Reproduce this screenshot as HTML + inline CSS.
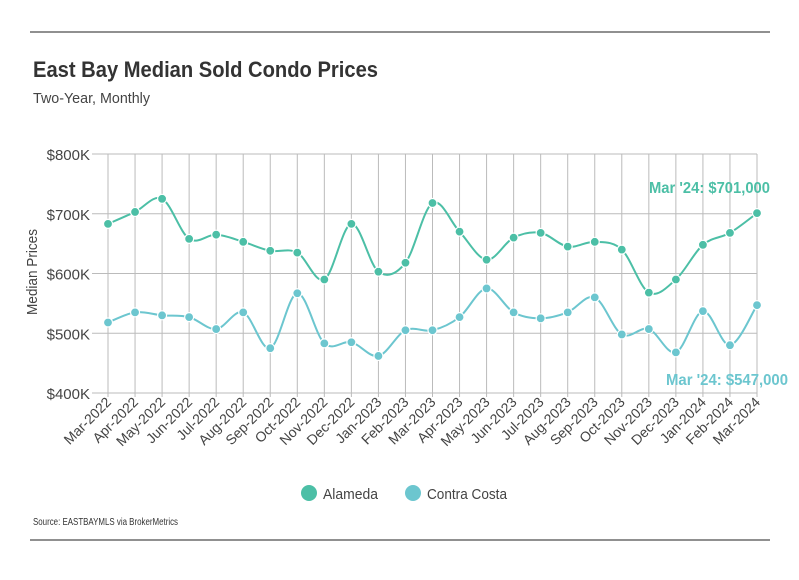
<!DOCTYPE html>
<html><head><meta charset="utf-8"><style>
body{margin:0;background:#fff;width:799px;height:575px;overflow:hidden;font-family:"Liberation Sans Narrow","Liberation Sans",sans-serif;}
</style></head><body>
<svg id="chart" width="799" height="575" xmlns="http://www.w3.org/2000/svg" style="font-family:'Liberation Sans Narrow','Liberation Sans',sans-serif">
<line x1="30" y1="32" x2="770" y2="32" stroke="#222" stroke-width="1"/>
<line x1="30" y1="540" x2="770" y2="540" stroke="#222" stroke-width="1"/>
<text x="33" y="77" font-size="22" font-weight="bold" fill="#333" textLength="345" lengthAdjust="spacingAndGlyphs">East Bay Median Sold Condo Prices</text>
<text x="33" y="103" font-size="15" fill="#444" textLength="117" lengthAdjust="spacingAndGlyphs">Two-Year, Monthly</text>
<text transform="translate(37,272) rotate(-90)" text-anchor="middle" font-size="15" fill="#444" textLength="86" lengthAdjust="spacingAndGlyphs">Median Prices</text>
<g id="grid"></g><g id="series"></g><g id="labels"></g>
<g>
<g><circle cx="309" cy="493" r="8" fill="#4cbfa6"/><text x="323" y="499" font-size="15" fill="#444" textLength="55" lengthAdjust="spacingAndGlyphs">Alameda</text></g>
<g><circle cx="413" cy="493" r="8" fill="#6cc6cf"/><text x="427" y="499" font-size="15" fill="#444" textLength="80" lengthAdjust="spacingAndGlyphs">Contra Costa</text></g>
</g>
<text x="33" y="525" font-size="10" fill="#333" textLength="145" lengthAdjust="spacingAndGlyphs">Source:  EASTBAYMLS via BrokerMetrics</text>
</svg>
<script>
const categories=["Mar-2022","Apr-2022","May-2022","Jun-2022","Jul-2022","Aug-2022","Sep-2022","Oct-2022","Nov-2022","Dec-2022","Jan-2023","Feb-2023","Mar-2023","Apr-2023","May-2023","Jun-2023","Jul-2023","Aug-2023","Sep-2023","Oct-2023","Nov-2023","Dec-2023","Jan-2024","Feb-2024","Mar-2024"];
const alameda=[683,703,725,658,665,653,638,635,590,683,603,618,718,670,623,660,668,645,653,640,568,590,648,668,701];
const contraCosta=[518,535,530,527,507,535,475,567,483,485,462,505,505,527,575,535,525,535,560,498,507,468,537,480,547];
const yTicks=[400,500,600,700,800];
const yTickLabels=["$400K","$500K","$600K","$700K","$800K"];
const NS="http://www.w3.org/2000/svg";
const x0=108,x1=757,yTop=154,yBot=393,vMin=400,vMax=800;
const xs=i=>x0+i*(x1-x0)/(categories.length-1);
const ys=v=>yBot-(v-vMin)/(vMax-vMin)*(yBot-yTop);
function mk(t,a,p){const e=document.createElementNS(NS,t);for(const k in a)e.setAttribute(k,a[k]);p.appendChild(e);return e;}
const grid=document.getElementById('grid'),ser=document.getElementById('series'),lab=document.getElementById('labels');
yTicks.forEach((v,i)=>{
 const l=mk('line',{x1:92,x2:x1,y1:ys(v),y2:ys(v),stroke:'#bbb','stroke-width':1},grid);
 
 
 const t=mk('text',{x:90,y:ys(v)+6,'text-anchor':'end','font-size':15,fill:'#444'},grid);
 t.textContent=yTickLabels[i];
 
 
});
categories.forEach((c,i)=>{
 const l=mk('line',{x1:xs(i),x2:xs(i),y1:yTop,y2:yBot+4,stroke:'#bbb','stroke-width':1},grid);
 
 
 const t=mk('text',{transform:`translate(${xs(i)+4},${yBot+10}) rotate(-45)`,'text-anchor':'end','font-size':14,fill:'#444'},grid);
 t.textContent=c;
 
 
});
function path(vals){
 const p=vals.map((v,i)=>[xs(i),ys(v)]);let d=`M${p[0][0]},${p[0][1]}`;
 for(let i=0;i<p.length-1;i++){const a=p[i-1]||p[i],b=p[i],c=p[i+1],e=p[i+2]||c;const k=1/6;
  d+=` C${b[0]+(c[0]-a[0])*k},${b[1]+(c[1]-a[1])*k} ${c[0]-(e[0]-b[0])*k},${c[1]-(e[1]-b[1])*k} ${c[0]},${c[1]}`;}
 return d;}
[[alameda,'#4cbfa6','alameda'],[contraCosta,'#6cc6cf','contra-costa']].forEach(([vals,col,nm])=>{
 const pth=mk('path',{d:path(vals),fill:'none',stroke:col,'stroke-width':2},ser);
 
 
 vals.forEach((v,i)=>{const c=mk('circle',{cx:xs(i),cy:ys(v),r:4.5,fill:col,stroke:'#fff','stroke-width':1.2},ser);
  
  });
});
const la=mk('text',{x:649,y:ys(alameda[24])-20,'font-size':16,'font-weight':'bold',fill:'#4cbfa6',textLength:121,lengthAdjust:'spacingAndGlyphs'},lab);
la.textContent="Mar '24: $"+alameda[24].toLocaleString('en-US')+",000";


const lc=mk('text',{x:666,y:385,'font-size':16,'font-weight':'bold',fill:'#6cc6cf',textLength:122,lengthAdjust:'spacingAndGlyphs'},lab);
lc.textContent="Mar '24: $"+contraCosta[24].toLocaleString('en-US')+",000";


</script>
</body></html>
